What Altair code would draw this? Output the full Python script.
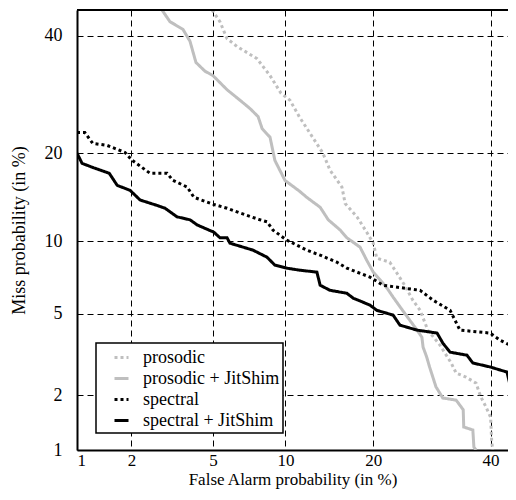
import altair as alt
import pandas as pd
from statistics import NormalDist

# ---- data (percent) ----
systems = ["prosodic", "prosodic + JitShim", "spectral", "spectral + JitShim"]

pros_fa = [4.95, 5.37, 5.77, 6.37, 7.72, 8.71, 9.61, 10.4, 11.3, 12.6, 13.7, 14.5, 15.9, 16.3,
           17.8, 19.1, 20.0, 20.5, 22.4, 23.5, 24.7, 26.0, 27.2, 28.5, 30.6, 32.6, 33.5, 35.3,
           37.2, 38.1, 39.1, 40.0, 40.2, 40.4]
pros_miss = [45.0, 42.7, 39.4, 37.9, 35.6, 32.5, 29.4, 28.2, 25.4, 22.3, 20.0, 17.7, 15.6, 13.7,
             12.3, 10.8, 9.82, 8.58, 8.27, 7.46, 6.65, 5.74, 5.18, 4.21, 3.58, 2.93, 2.61, 2.49,
             2.32, 1.97, 1.74, 1.53, 1.14, 1.0]

prjs_fa = [2.87, 3.14, 3.63, 3.92, 4.18, 4.6, 5.0, 5.77, 6.56, 7.23, 7.8, 8.1, 8.71, 9.1, 9.96,
           11.3, 12.0, 13.4, 14.3, 15.7, 16.5, 18.2, 19.1, 20.0, 21.0, 22.0, 22.9, 24.0, 25.5,
           26.7, 27.5, 27.7, 28.3, 28.8, 29.9, 31.1, 33.5, 34.8, 34.9, 36.6, 36.8, 37.2]
prjs_miss = [45.0, 42.7, 41.2, 38.9, 34.9, 33.3, 32.5, 30.0, 28.2, 26.8, 25.5, 23.6, 22.3, 19.0,
             16.4, 15.1, 14.4, 13.3, 12.0, 11.0, 10.3, 9.48, 8.42, 7.54, 6.99, 6.46, 5.92, 5.35,
             4.68, 4.21, 3.90, 3.50, 3.14, 2.80, 2.22, 1.94, 1.89, 1.68, 1.35, 1.30, 1.04, 1.0]

spec_fa = [1.0, 1.11, 1.23, 1.48, 1.85, 2.02, 2.5, 3.04, 3.25, 3.8, 4.09, 5.05, 5.77, 6.55, 7.94,
           8.47, 8.95, 10.1, 12.0, 13.4, 15.3, 16.5, 19.55, 21.4, 27.2, 29.4, 32.4, 34.2, 39.9,
           41.8, 45.0]
spec_miss = [23.0, 23.0, 21.4, 21.1, 20.1, 19.0, 17.3, 17.3, 16.4, 15.6, 14.4, 13.6, 13.2, 12.7,
             12.0, 11.8, 11.0, 10.1, 9.23, 8.82, 8.27, 7.83, 7.19, 6.65, 6.33, 5.74, 5.18, 4.21,
             4.08, 3.78, 3.46]

spjs_fa = [1.0, 1.07, 1.25, 1.52, 1.68, 1.97, 2.22, 2.71, 2.97, 3.40, 3.92, 4.23, 5.05, 5.37,
           5.77, 5.94, 7.43, 8.47, 9.1, 10.1, 11.3, 13.05, 13.4, 14.5, 16.5, 17.3, 19.55, 20.5,
           22.9, 23.95, 26.7, 30.1, 31.1, 32.4, 35.5, 36.6, 39.9, 43.2, 43.8, 45.0]
spjs_miss = [20.0, 18.6, 18.0, 17.3, 15.8, 15.2, 14.1, 13.5, 13.2, 12.3, 12.0, 11.5, 10.8, 10.3,
             10.3, 9.82, 9.23, 8.66, 8.05, 7.83, 7.68, 7.54, 6.65, 6.33, 6.15, 5.86, 5.46, 5.18,
             4.93, 4.44, 4.21, 4.08, 3.66, 3.31, 3.20, 2.93, 2.80, 2.64, 2.27, 2.27]

tick_pct = [1, 2, 5, 10, 20, 40]
x_domain_pct = [1, 43.4]
y_domain_pct = [1, 45]

# ---- build table (probit / normal-deviate scale) ----
nd = NormalDist()
def probit(p):
    return nd.inv_cdf(p / 100.0)

rows = []
for name, fa, ms in zip(systems, [pros_fa, prjs_fa, spec_fa, spjs_fa],
                        [pros_miss, prjs_miss, spec_miss, spjs_miss]):
    for i, (a, b) in enumerate(zip(fa, ms)):
        rows.append({"system": name, "i": i, "fa": a, "miss": b,
                     "x": probit(a), "y": probit(b)})
df = pd.DataFrame(rows)

tick_vals = [probit(t) for t in tick_pct]
xdom = [probit(d) for d in x_domain_pct]
ydom = [probit(d) for d in y_domain_pct]
label_expr = "format(cumulativeNormal(datum.value)*100, '.0f')"

FONT = "Liberation Serif, Times New Roman, DejaVu Serif, serif"
W, H = 431, 440

lines = alt.Chart(df).mark_line(strokeWidth=3, clip=True, strokeCap="butt").encode(
    x=alt.X("x:Q", scale=alt.Scale(domain=xdom, nice=False, zero=False),
            axis=alt.Axis(values=tick_vals, labelExpr=label_expr,
                          title="False Alarm probability (in %)",
                          labelPadding=2, titlePadding=3, labelFontSize=17,
                          titleFontSize=17)),
    y=alt.Y("y:Q", scale=alt.Scale(domain=ydom, nice=False, zero=False),
            axis=alt.Axis(values=tick_vals, labelExpr=label_expr,
                          title="Miss probability (in %)",
                          labelPadding=15, titlePadding=16)),
    color=alt.Color("system:N",
                    scale=alt.Scale(domain=systems,
                                    range=["#bfbfbf", "#bfbfbf", "#000000", "#000000"]),
                    legend=alt.Legend(title=None)),
    strokeDash=alt.StrokeDash("system:N",
                              scale=alt.Scale(domain=systems,
                                              range=[[3, 3], [1, 0], [3, 3], [1, 0]]),
                              legend=alt.Legend(title=None)),
    order="i:Q",
)

top_border = alt.Chart(alt.Data(values=[{"k": 1}])).mark_rule(
    color="black", strokeWidth=2
).encode(x=alt.value(0), x2=alt.value(W), y=alt.value(0))

chart = alt.layer(lines, top_border).properties(
    width=W, height=H,
    autosize=alt.AutoSizeParams(type="none"),
    padding={"left": 69, "top": 2, "right": 0, "bottom": 42},
).configure_view(stroke=None).configure_axis(
    labelFont=FONT, labelFontSize=18, labelColor="black",
    titleFont=FONT, titleFontSize=18, titleFontWeight="normal", titleColor="black",
    grid=True, gridColor="black", gridDash=[6, 4], gridWidth=1, gridOpacity=1,
    tickSize=0, ticks=False,
    domainColor="black", domainWidth=2,
).configure_legend(
    orient="none", legendX=19, legendY=333,
    strokeColor="black", fillColor="white", padding=3, strokeWidth=1.5,
    labelFont=FONT, labelFontSize=18, labelColor="black", labelOffset=10,
    symbolType="M-0.7,0H0.7", symbolSize=400, symbolStrokeWidth=3, symbolOffset=11,
    rowPadding=-3,
)

chart.save("out.html", embed_options={"renderer": "svg", "actions": False})
